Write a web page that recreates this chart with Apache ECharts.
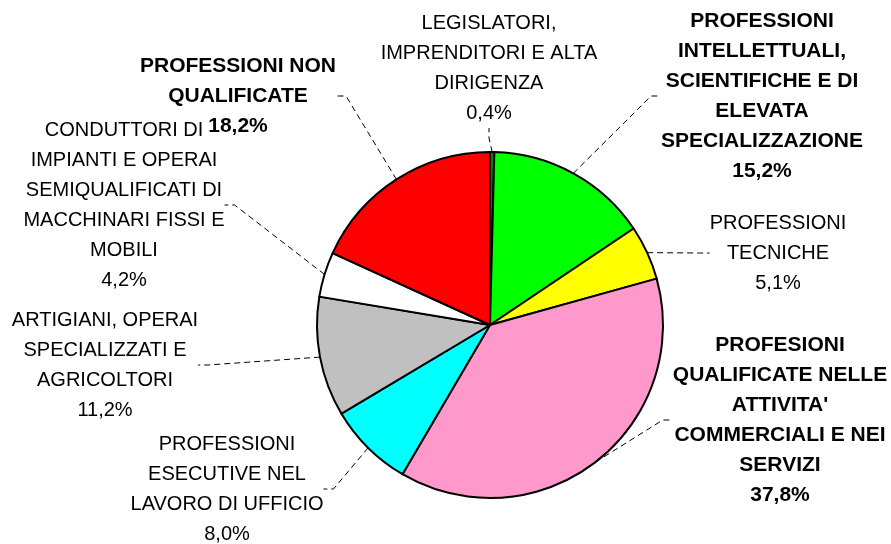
<!DOCTYPE html>
<html>
<head>
<meta charset="utf-8">
<script src="https://cdn.jsdelivr.net/npm/echarts@6/dist/echarts.min.js"></script>
<style>
  html, body { margin: 0; padding: 0; background: #fff; }
  #chart { width: 891px; height: 544px; }
</style>
</head>
<body>
<div id="chart"></div>
<script>
// categories (clockwise from 12 o'clock)
const categories = [
  "LEGISLATORI,\nIMPRENDITORI E ALTA\nDIRIGENZA",
  "PROFESSIONI\nINTELLETTUALI,\nSCIENTIFICHE E DI\nELEVATA\nSPECIALIZZAZIONE",
  "PROFESSIONI\nTECNICHE",
  "PROFESIONI\nQUALIFICATE NELLE\nATTIVITA'\nCOMMERCIALI E NEI\nSERVIZI",
  "PROFESSIONI\nESECUTIVE NEL\nLAVORO DI UFFICIO",
  "ARTIGIANI, OPERAI\nSPECIALIZZATI E\nAGRICOLTORI",
  "CONDUTTORI DI\nIMPIANTI E OPERAI\nSEMIQUALIFICATI DI\nMACCHINARI FISSI E\nMOBILI",
  "PROFESSIONI NON\nQUALIFICATE"
];
const shares = [0.4, 15.2, 5.1, 37.8, 8.0, 11.2, 4.2, 18.2];
const boldLabel = [false, true, false, true, false, false, false, true];

const colors = ["#008000", "#00ff00", "#ffff00", "#ff99cc", "#00ffff", "#c0c0c0", "#ffffff", "#ff0000"];
// label block centres
const labelPos = [
  [489, 68], [762, 96], [778, 253], [780, 420],
  [227, 489], [105, 365], [124, 205], [238, 96]
];

const chart = echarts.init(document.getElementById("chart"));

const data = shares.map((v, i) => ({
  name: categories[i],
  value: v,
  itemStyle: { color: colors[i] },
  label: boldLabel[i] ? { fontWeight: "bold", fontSize: 21 } : { fontWeight: "normal", fontSize: 20 }
}));

chart.setOption({
  animation: false,
  series: [
    {
      type: "pie",
      center: [490, 325],
      radius: 173,
      startAngle: 90,
      clockwise: true,
      avoidLabelOverlap: false,
      itemStyle: { borderColor: "#000", borderWidth: 2 },
      label: {
        show: true,
        position: "outside",
        color: "#000",
        fontFamily: "Liberation Sans, Arial, sans-serif",
        fontSize: 20,
        lineHeight: 30,
        align: "center",
        formatter: p => p.name + "\n" + p.value.toFixed(1).replace(".", ",") + "%"
      },
      labelLine: {
        show: true,
        length: 10,
        length2: 10,
        lineStyle: { color: "#000", width: 1, type: [6, 4] }
      },
      labelLayout: params => ({
        x: labelPos[params.dataIndex][0],
        y: labelPos[params.dataIndex][1],
        align: "center",
        verticalAlign: "middle"
      }),
      data: data
    }
  ]
});
</script>
</body>
</html>
